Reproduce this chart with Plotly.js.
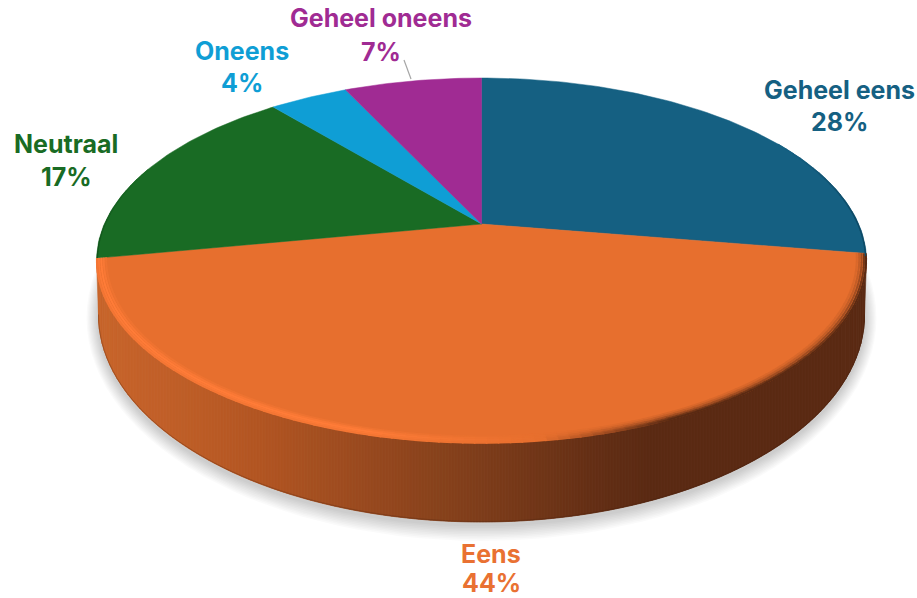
<!DOCTYPE html>
<html>
<head>
<meta charset="utf-8">
<script src="https://cdn.plot.ly/plotly-3.0.1.min.js"></script>
<style>html,body{margin:0;padding:0;background:#fff}#chart{width:917px;height:598px}</style>
</head>
<body>
<div id="chart"></div>
<script>
// Data
const categories = ["Geheel eens", "Eens", "Neutraal", "Oneens", "Geheel oneens"];
const values = [27.6, 44.4, 17, 4, 7];
const sliceColors = ["#156082", "#E76F2E", "#196B24", "#0F9ED5", "#A02B93"];
const labelColors = ["#156082", "#E97132", "#196B24", "#0F9ED5", "#A02B93"];
const labelX = [839, 491, 66, 242, 381];
const nameY = [90, 554, 144, 51, 18];
const percentY = [122, 583, 177, 83, 52];

// Perspective view of the pie's top face
const CX = 481.5, CY = 224, A = 377.2, B = 175.2, K = -0.2;
function project(deg, r) {
  const t = deg * Math.PI / 180, u = r * Math.sin(t), v = -r * Math.cos(t), w = 1 + K * v;
  return [CX + A * u / w, CY + B * v / w];
}
const E_CY = 260.5, E_RX = 385, E_RY = 182.5;   // top face outline
const F_CY = 315, F_RX = 383, F_RY = 207;       // base outline

function hex(c) { return [1, 3, 5].map(i => parseInt(c.substr(i, 2), 16)); }
function mix(a, b, t) {
  const x = hex(a), y = hex(b);
  return "#" + x.map((v, i) => Math.round(v + (y[i] - v) * t).toString(16).padStart(2, "0")).join("");
}
function clamp(t) { return Math.max(0, Math.min(1, t)); }

const traces = [];
function poly(xs, ys, color, lw) {
  traces.push({ type: "scatter", mode: "lines", x: xs, y: ys, fill: "toself", fillcolor: color,
    line: { color: color, width: lw === undefined ? 0.6 : lw }, hoverinfo: "skip", showlegend: false });
}
function seg(p, q, color, width) {
  traces.push({ type: "scatter", mode: "lines", x: [p[0], q[0]], y: [p[1], q[1]],
    line: { color: color, width: width }, hoverinfo: "skip", showlegend: false });
}

// Soft shadow under the pie
for (let i = 0; i < 10; i++) {
  const g = 16 - i * 1.6, xs = [], ys = [];
  for (let d = 0; d <= 360; d += 3) {
    const t = d * Math.PI / 180;
    xs.push(CX + (F_RX + g * 0.75) * Math.cos(t));
    ys.push(F_CY + 3 + (F_RY + g) * Math.sin(t));
  }
  traces.push({ type: "scatter", mode: "lines", x: xs, y: ys, fill: "toself",
    fillcolor: "rgba(0,0,0,0.018)", line: { width: 0 }, hoverinfo: "skip", showlegend: false });
}

// Side wall of the large slice: vertical strips shaded left to right
const wallStops = [[96, "#C8652B"], [180, "#BF5E27"], [260, "#B25522"], [360, "#9A4A1F"],
                   [480, "#7E3D1A"], [590, "#652F15"], [650, "#5A2A13"], [870, "#5A2A13"]];
function wallColor(x) {
  for (let i = 1; i < wallStops.length; i++) {
    if (x <= wallStops[i][0]) {
      const p = wallStops[i - 1], q = wallStops[i];
      return mix(p[1], q[1], (x - p[0]) / (q[0] - p[0]));
    }
  }
  return wallStops[wallStops.length - 1][1];
}
function topY(x) { const s = (x - CX) / E_RX; return E_CY + E_RY * Math.sqrt(Math.max(0, 1 - s * s)); }
function botY(x) { const s = (x - CX) / F_RX; return F_CY + F_RY * Math.sqrt(Math.max(0, 1 - s * s)); }
const stripEdges = [];
for (let d = 180; d >= 160; d -= 2) stripEdges.push(CX + F_RX * Math.cos(d * Math.PI / 180));
for (let x = stripEdges[stripEdges.length - 1] + 3; x < CX + F_RX * Math.cos(20 * Math.PI / 180); x += 3) stripEdges.push(x);
for (let d = 20; d >= 0; d -= 2) stripEdges.push(CX + F_RX * Math.cos(d * Math.PI / 180));
// outer slivers joining the face outline to the base outline
poly([CX - E_RX, CX - F_RX, CX - F_RX, CX - E_RX], [E_CY, E_CY, F_CY, E_CY], wallColor(97), 0.6);
poly([CX + E_RX, CX + F_RX, CX + F_RX, CX + E_RX], [E_CY, E_CY, F_CY, E_CY], wallColor(865), 0.6);
for (let i = 0; i < stripEdges.length - 1; i++) {
  const a = stripEdges[i], b = stripEdges[i + 1], m = (a + b) / 2;
  poly([a, b, b, a, a], [topY(a) - 4, topY(b) - 4, botY(b), botY(a), topY(a) - 4], wallColor(m), 0.8);
}
// darker lower edge of the wall
for (let i = 0; i < stripEdges.length - 1; i++) {
  const a = stripEdges[i], b = stripEdges[i + 1], m = (a + b) / 2;
  seg([a, botY(a) - 0.5], [b, botY(b) - 0.5], mix(wallColor(m), "#3F1C0B", 0.28), 1);
}

// Top face slices
const total = values.reduce((s, v) => s + v, 0);
const starts = [];
let run = 0;
values.forEach(v => { starts.push(run / total * 360); run += v; });
values.forEach((v, i) => {
  const a0 = starts[i], a1 = a0 + v / total * 360, xs = [CX], ys = [CY];
  for (let d = a0; d < a1; d += 1) { const p = project(d, 1); xs.push(p[0]); ys.push(p[1]); }
  const e = project(a1, 1); xs.push(e[0], CX); ys.push(e[1], CY);
  traces.push({ type: "scatter", mode: "lines", x: xs, y: ys, fill: "toself", fillcolor: sliceColors[i],
    name: categories[i], line: { color: sliceColors[i], width: 0.5 }, hoverinfo: "skip", showlegend: false });
});

// Rounded rim of the large slice: bright on the left, falling into dark on the right
const ringR = [0.976, 0.982, 0.988, 0.994, 0.999];
const glow = [0.3, 0.7, 1.0, 0.85, 0.55];
const fall = [0.1, 0.25, 0.5, 0.8, 1.0];
const rimStart = starts[1], rimEnd = starts[1] + values[1] / total * 360, rimSteps = 110;
ringR.forEach((r, k) => {
  for (let s = 0; s < rimSteps; s++) {
    const d0 = rimStart + (rimEnd - rimStart) * s / rimSteps;
    const d1 = rimStart + (rimEnd - rimStart) * (s + 1) / rimSteps + 0.2;
    const p = project(d0, r), q = project(Math.min(d1, rimEnd), r), x = (p[0] + q[0]) / 2;
    const h = clamp((540 - x) / 180) * glow[k], f = clamp((x - 540) / 130) * fall[k];
    const col = f > 0 ? mix(sliceColors[1], "#5A2A13", f) : mix(sliceColors[1], "#FF7C38", h);
    seg(p, q, col, 2);
  }
});
// Thin darkening on the outer edge of the teal and green slices
for (let d = 60; d < starts[1]; d += 2) {
  seg(project(d, 0.998), project(d + 2.2, 0.998), mix(sliceColors[0], "#0E4A66", clamp((d - 60) / 25)), 1.5);
}
for (let d = rimEnd; d < rimEnd + 30; d += 2) {
  seg(project(d, 0.998), project(d + 2.2, 0.998), mix(sliceColors[2], "#0E4216", clamp(1 - (d - rimEnd) / 30) * 0.6), 1.2);
}

const labelFont = i => ({ family: "Inter, 'Open Sans', sans-serif", size: 25, weight: 700, color: labelColors[i] });
const annotations = [];
categories.forEach((c, i) => {
  annotations.push({ x: labelX[i], y: nameY[i], xref: "x", yref: "y", showarrow: false, text: c, font: labelFont(i) });
  annotations.push({ x: labelX[i], y: percentY[i], xref: "x", yref: "y", showarrow: false,
    text: Math.round(values[i]) + "%", font: labelFont(i) });
});

const layout = {
  width: 917, height: 598, margin: { l: 0, r: 0, t: 0, b: 0 },
  paper_bgcolor: "#fff", plot_bgcolor: "#fff", showlegend: false, hovermode: false,
  xaxis: { range: [0, 917], visible: false, fixedrange: true },
  yaxis: { range: [598, 0], visible: false, fixedrange: true },
  annotations: annotations,
  shapes: [{ type: "line", xref: "x", yref: "y", x0: 404, y0: 60, x1: 411, y1: 79,
             line: { color: "#A6A6A6", width: 1.2 } }]
};
Plotly.newPlot("chart", traces, layout, { displayModeBar: false, staticPlot: true });
</script>
</body>
</html>
